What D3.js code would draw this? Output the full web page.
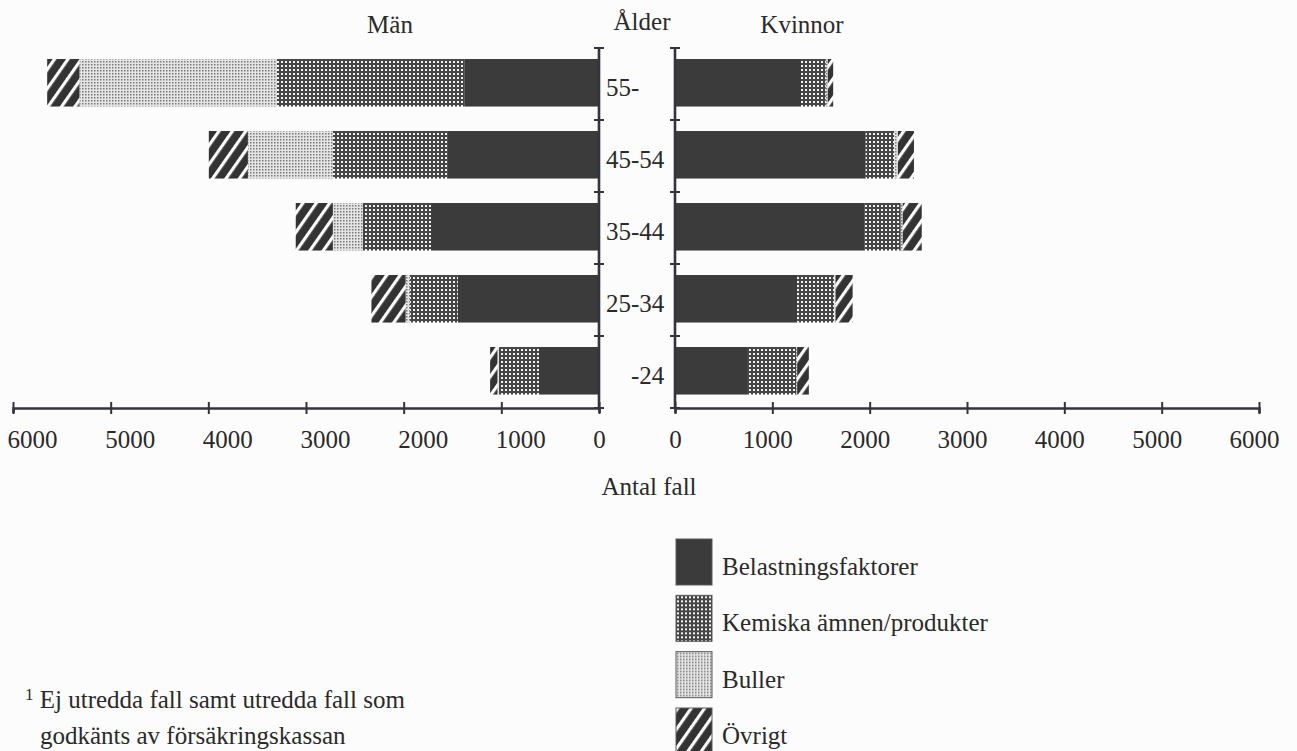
<!DOCTYPE html>
<html lang="sv">
<head>
<meta charset="utf-8">
<script src="https://cdn.jsdelivr.net/npm/d3@7"></script>
<style>
  html, body { margin: 0; padding: 0; background: #fcfcfc; }
  svg { display: block; font-family: "Liberation Serif", "Times New Roman", serif; }
  text { fill: #2a2a2a; }
</style>
</head>
<body>
<svg id="chart" width="1297" height="751"></svg>
<script>
// Age groups, top to bottom
const ages = ["55-", "45-54", "35-44", "25-34", "-24"];
// Cause categories, stacked outward from the centre
const categories = ["Belastningsfaktorer", "Kemiska ämnen/produkter", "Buller", "Övrigt"];

// Antal fall per age group – men
const menBelastning = [1380, 1555, 1720, 1445, 615];
const menKemiska    = [1920, 1170, 700, 490, 410];
const menBuller     = [2020, 870, 305, 45, 15];
const menOvrigt     = [330, 400, 380, 350, 75];

// Antal fall per age group – women
const womenBelastning = [1295, 1960, 1950, 1255, 740];
const womenKemiska    = [255, 290, 370, 380, 505];
const womenBuller     = [20, 40, 20, 15, 10];
const womenOvrigt     = [55, 165, 195, 175, 120];

// Axis ticks
const xTicks = [0, 1000, 2000, 3000, 4000, 5000, 6000];

const svg = d3.select("#chart");
const ink = "#34343e";

// ---- fill patterns -------------------------------------------------------
const defs = svg.append("defs");
const fills = {};

fills[categories[0]] = "#3b3b3b";

const pKem = defs.append("pattern").attr("id", "p-kemiska")
  .attr("patternUnits", "userSpaceOnUse").attr("width", 4).attr("height", 4);
pKem.append("rect").attr("width", 4).attr("height", 4).attr("fill", "#454545");
pKem.append("rect").attr("x", 1).attr("y", 1).attr("width", 2).attr("height", 2).attr("fill", "#f2f2f2");
fills[categories[1]] = "url(#p-kemiska)";

const pBul = defs.append("pattern").attr("id", "p-buller")
  .attr("patternUnits", "userSpaceOnUse").attr("width", 3).attr("height", 3);
pBul.append("rect").attr("width", 3).attr("height", 3).attr("fill", "#e4e4e4");
pBul.append("rect").attr("x", 1).attr("y", 1).attr("width", 1.5).attr("height", 1.5).attr("fill", "#7a7a7a");
fills[categories[2]] = "url(#p-buller)";

const pOvr = defs.append("pattern").attr("id", "p-ovrigt")
  .attr("patternUnits", "userSpaceOnUse").attr("width", 11).attr("height", 11)
  .attr("patternTransform", "rotate(35)");
pOvr.append("rect").attr("width", 11).attr("height", 11).attr("fill", "#333333");
pOvr.append("rect").attr("x", 0).attr("width", 3.2).attr("height", 11).attr("fill", "#fafafa");
fills[categories[3]] = "url(#p-ovrigt)";

// ---- scales --------------------------------------------------------------
const y = d3.scaleBand().domain(ages).range([48, 408])
  .paddingInner(0.34).paddingOuter(0.17).align(0.45);
const xMen = d3.scaleLinear().domain([0, 6000]).range([599, 13]);
const xWomen = d3.scaleLinear().domain([0, 6000]).range([675, 1259]);

// ---- stacked data --------------------------------------------------------
function rows(b, k, bu, o) {
  return ages.map((a, i) => ({
    age: a,
    [categories[0]]: b[i], [categories[1]]: k[i],
    [categories[2]]: bu[i], [categories[3]]: o[i]
  }));
}
const stack = d3.stack().keys(categories);
const menSeries = stack(rows(menBelastning, menKemiska, menBuller, menOvrigt));
const womenSeries = stack(rows(womenBelastning, womenKemiska, womenBuller, womenOvrigt));

function drawBars(series, x, cls) {
  const g = svg.append("g").attr("class", cls);
  g.selectAll("g").data(series).join("g")
    .attr("fill", d => fills[d.key])
    .selectAll("rect").data(d => d).join("rect")
      .attr("x", d => Math.min(x(d[0]), x(d[1])))
      .attr("width", d => Math.abs(x(d[1]) - x(d[0])))
      .attr("y", d => y(d.data.age))
      .attr("height", y.bandwidth());
}
drawBars(menSeries, xMen, "men");
drawBars(womenSeries, xWomen, "women");

// ---- horizontal axes -----------------------------------------------------
function xAxis(x, shift) {
  const g = svg.append("g").attr("transform", "translate(0,408)")
    .call(d3.axisBottom(x).tickValues(xTicks).tickSizeOuter(0).tickSize(5).tickFormat(d3.format("d")));
  g.select(".domain").attr("stroke", ink).attr("stroke-width", 2.6);
  g.selectAll(".tick line").attr("stroke", ink).attr("stroke-width", 2).attr("y1", -6).attr("y2", 6);
  g.selectAll(".tick text")
    .attr("y", 22).attr("dx", d => d === 0 ? 0 : shift)
    .attr("font-size", 25).attr("font-family", "Liberation Serif").attr("fill", "#2a2a2a");
}
xAxis(xMen, 19);
xAxis(xWomen, -5);

// ---- vertical axes with group boundaries ---------------------------------
const bounds = d3.range(ages.length + 1).map(i => y.range()[0] + i * y.step());
[599, 675].forEach(cx => {
  const g = svg.append("g");
  g.append("line").attr("x1", cx).attr("x2", cx).attr("y1", bounds[0]).attr("y2", bounds[bounds.length - 1])
    .attr("stroke", ink).attr("stroke-width", 2.6);
  g.selectAll(".b").data(bounds).join("line")
    .attr("x1", cx - 5).attr("x2", cx + 5).attr("y1", d => d).attr("y2", d => d)
    .attr("stroke", ink).attr("stroke-width", 2);
});

// ---- age labels, aligned on the hyphen -----------------------------------
const hyphenX = 631;
const measure = svg.append("text").attr("font-size", 25).attr("visibility", "hidden");
ages.forEach(a => {
  const pre = a.slice(0, a.indexOf("-"));
  measure.text(pre || "");
  const w = pre ? measure.node().getComputedTextLength() : 0;
  svg.append("text")
    .attr("x", hyphenX - w)
    .attr("y", y(a) + y.bandwidth() / 2 + 4)
    .attr("dy", "0.35em")
    .attr("font-size", 25)
    .text(a);
});
measure.remove();

// ---- titles ---------------------------------------------------------------
svg.append("text").attr("x", 390).attr("y", 33).attr("text-anchor", "middle").attr("font-size", 25).text("Män");
svg.append("text").attr("x", 642).attr("y", 30).attr("text-anchor", "middle").attr("font-size", 25).text("Ålder");
svg.append("text").attr("x", 802).attr("y", 33).attr("text-anchor", "middle").attr("font-size", 25).text("Kvinnor");
svg.append("text").attr("x", 649).attr("y", 495).attr("text-anchor", "middle").attr("font-size", 25).text("Antal fall");

// ---- legend ---------------------------------------------------------------
const legendY = d3.scalePoint().domain(categories).range([539, 708]);
const lg = svg.append("g").selectAll("g").data(categories).join("g")
  .attr("transform", d => `translate(676,${legendY(d)})`);
lg.append("rect").attr("width", 36).attr("height", 46)
  .attr("fill", d => fills[d]).attr("stroke", "#5a5a5a").attr("stroke-width", 1);
lg.append("text").attr("x", 46).attr("y", 36).attr("font-size", 25).text(d => d);

// ---- footnote -------------------------------------------------------------
const fn = svg.append("text").attr("x", 25).attr("y", 708).attr("font-size", 25);
fn.append("tspan").attr("font-size", 17).attr("dy", -8).text("1");
fn.append("tspan").attr("dy", 8).text(" Ej utredda fall samt utredda fall som");
svg.append("text").attr("x", 40).attr("y", 744).attr("font-size", 25).text("godkänts av försäkringskassan");
</script>
</body>
</html>
